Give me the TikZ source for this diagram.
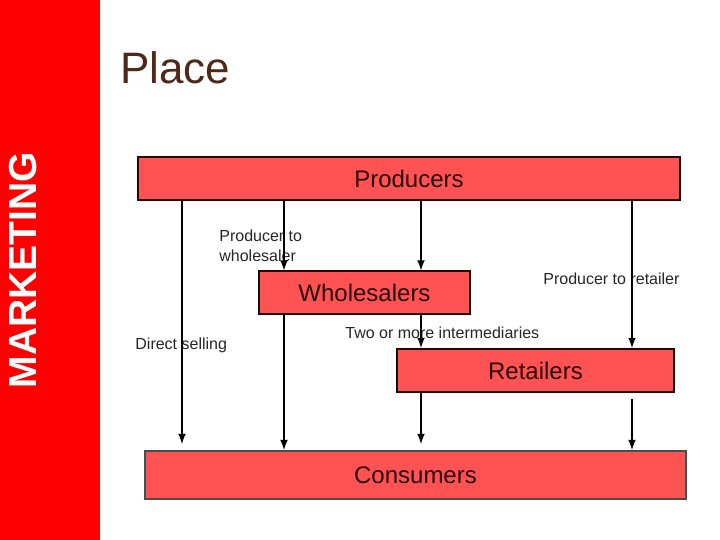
\documentclass[tikz,border=0pt]{standalone}
\usepackage{fontspec}
\setmainfont{Liberation Sans}
\usepackage{tikz}
\definecolor{boxred}{RGB}{255,82,82}
\definecolor{barred}{RGB}{255,0,0}
\definecolor{titlebrown}{RGB}{80,40,25}
\definecolor{boxtext}{RGB}{40,5,5}

\begin{document}
\begin{tikzpicture}
	[x=0.5pt, y=-0.5pt,
	channel/.style={rectangle, draw=black!85!red, line width=1pt, fill=boxred, inner sep=0pt, text=boxtext, font=\fontsize{12}{14}\selectfont},
	flow/.style={-latex, line width=0.75pt},
	note/.style={inner sep=0pt, text=black!85, font=\fontsize{8}{9.6}\selectfont, align=left}]
	\useasboundingbox (0,0) rectangle (720,540);
	\fill[barred] (0,0) rectangle (100,540);
	\node[rotate=90, text=white, font=\fontsize{19.5}{22}\selectfont\bfseries] (side) at (23,270) {MARKETING};
	\node[anchor=base west, inner sep=0pt, text=titlebrown, font=\fontsize{22}{26}\selectfont] (title) at (120,84) {Place};
	\node[channel, minimum width=271pt, minimum height=21.5pt] (prod) at (409,178.5) {Producers};
	\node[channel, minimum width=105.5pt, minimum height=21.5pt] (whole) at (364.5,293) {Wholesalers};
	\node[channel, minimum width=138.5pt, minimum height=21.5pt] (ret) at (535.5,370.5) {Retailers};
	\node[channel, draw=black!70, minimum width=270.5pt, minimum height=24pt] (cons) at (415.5,475) {Consumers};
	\node[note, anchor=north west] (ptw) at (219,230) {Producer to\\wholesaler};
	\node[note, anchor=base west] (ptr) at (543,285) {Producer to retailer};
	\node[note, anchor=base west] (two) at (345,339) {Two or more intermediaries};
	\node[note, anchor=base west] (direct) at (135,350) {Direct selling};
	\coordinate (c1) at (182,0);
	\coordinate (c2) at (284,0);
	\coordinate (c3) at (421,0);
	\coordinate (c4) at (632,0);
	\draw[flow, shorten >=3pt] (prod.south -| c1) -- (cons.north -| c1);
	\draw[flow] (prod.south -| c2) -- (whole.north -| c2);
	\draw[flow] (prod.south -| c3) -- (whole.north -| c3);
	\draw[flow] (prod.south -| c4) -- (ret.north -| c4);
	\draw[flow] (whole.south -| c2) -- (cons.north -| c2);
	\draw[flow] (whole.south -| c3) -- (ret.north -| c3);
	\draw[flow, shorten >=3pt] (ret.south -| c3) -- (cons.north -| c3);
	\draw[flow, shorten <=3pt] (ret.south -| c4) -- (cons.north -| c4);
\end{tikzpicture}
\end{document}
